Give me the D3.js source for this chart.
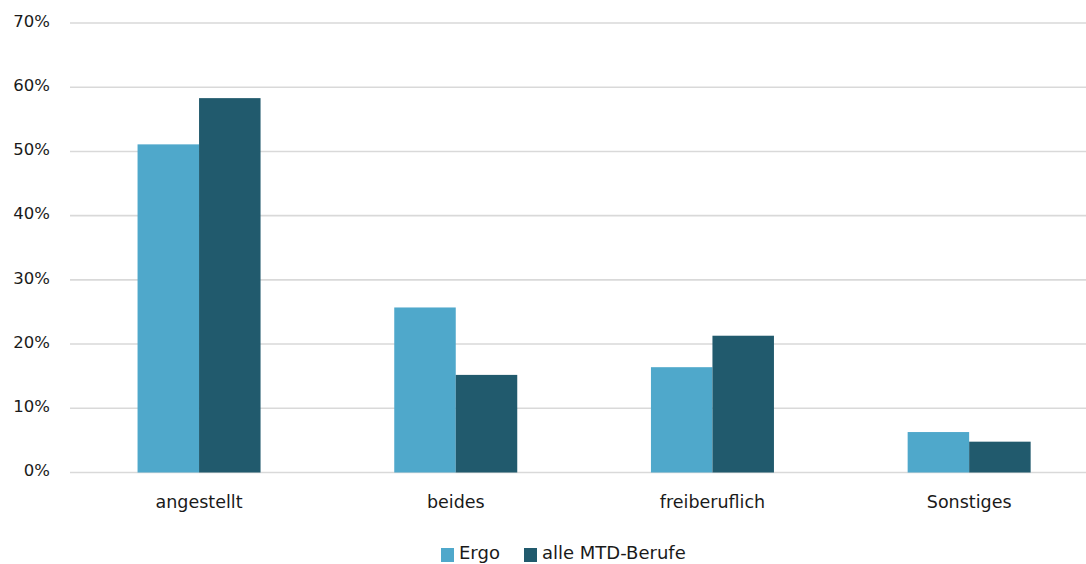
<!DOCTYPE html>
<html><head><meta charset="utf-8">
<script src="https://cdn.jsdelivr.net/npm/d3@7"></script>
<style>body{margin:0;background:#fff}text{font-family:"DejaVu Sans",sans-serif;fill:#1a1a1a}</style>
</head><body><svg id="c" width="1086" height="564"></svg>
<script>
const categories = ["angestellt","beides","freiberuflich","Sonstiges"];
const seriesNames = ["Ergo","alle MTD-Berufe"];
const ergo = [51.1, 25.7, 16.4, 6.3];
const mtd = [58.3, 15.2, 21.3, 4.8];
const yTicks = [0,10,20,30,40,50,60,70];
const colors = ["#4FA8CB","#215A6D"];

const svg = d3.select("#c");
const x = d3.scaleBand().domain(categories).range([70.7, 1097.5]).paddingInner(0).paddingOuter(0);
const x1 = d3.scaleBand().domain(seriesNames).range([0, 123]);
const y = d3.scaleLinear().domain([0,70]).range([472.5, 23]);

// gridlines
svg.append("g").selectAll("line").data(yTicks).join("line")
  .attr("x1",70).attr("x2",1086)
  .attr("y1",d=>y(d)).attr("y2",d=>y(d))
  .attr("stroke","#d9d9d9").attr("stroke-width",1.6);

// y labels
const yAxis = d3.axisLeft(y).tickValues(yTicks).tickFormat(d=>d+"%").tickSize(0).tickPadding(0);
const ya = svg.append("g").attr("transform","translate(50,0)").call(yAxis);
ya.select(".domain").remove();
ya.selectAll("text").style("font-family","DejaVu Sans").style("font-size","16.5px").attr("fill","#1a1a1a").attr("dy","0.2em");

// bars
const data = categories.map((c,i)=>({c, vals:[ergo[i], mtd[i]]}));
const g = svg.append("g");
data.forEach(d=>{
  const cx = x(d.c) + x.bandwidth()/2 - 61.5;
  seriesNames.forEach((s,j)=>{
    g.append("rect")
      .attr("x", cx + x1(s))
      .attr("y", y(d.vals[j]))
      .attr("width", x1.bandwidth())
      .attr("height", y(0)-y(d.vals[j]))
      .attr("fill", colors[j]);
  });
});

// x labels
const xAxis = d3.axisBottom(x).tickSize(0).tickPadding(0);
const xa = svg.append("g").attr("transform","translate(0,492)").call(xAxis);
xa.select(".domain").remove();
xa.selectAll("text").style("font-family","DejaVu Sans").style("font-size","17.5px").attr("fill","#1a1a1a").attr("dy","0.9em");

// legend
const legX = [441, 524];
const leg = svg.append("g");
seriesNames.forEach((s,j)=>{
  leg.append("rect").attr("x",legX[j]).attr("y",548).attr("width",13).attr("height",14).attr("fill",colors[j]);
  leg.append("text").attr("x",legX[j]+18).attr("y",559).style("font-size","18px").text(s);
});
</script></body></html>
